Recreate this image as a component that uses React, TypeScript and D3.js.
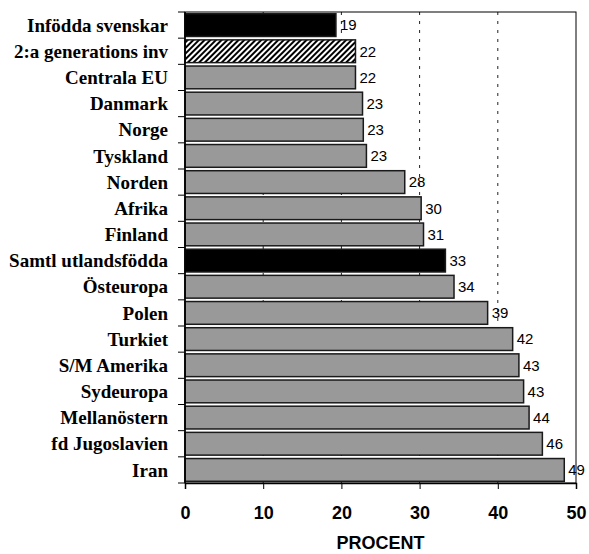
import * as d3 from "d3";
import { useEffect, useRef } from "react";

const categories = [
  "Infödda svenskar",
  "2:a generations inv",
  "Centrala EU",
  "Danmark",
  "Norge",
  "Tyskland",
  "Norden",
  "Afrika",
  "Finland",
  "Samtl utlandsfödda",
  "Östeuropa",
  "Polen",
  "Turkiet",
  "S/M Amerika",
  "Sydeuropa",
  "Mellanöstern",
  "fd Jugoslavien",
  "Iran",
];
const values = [
  19.3, 21.8, 21.8, 22.7, 22.8, 23.2, 28.1, 30.2, 30.5, 33.3, 34.4, 38.7, 41.9,
  42.7, 43.3, 44.0, 45.7, 48.5,
];
const valueLabels = [
  "19", "22", "22", "23", "23", "23", "28", "30", "31", "33", "34", "39", "42",
  "43", "43", "44", "46", "49",
];
// fill style per bar: black, hatched or grey
const barKinds = [
  "black", "hatch", "grey", "grey", "grey", "grey", "grey", "grey", "grey",
  "black", "grey", "grey", "grey", "grey", "grey", "grey", "grey", "grey",
];
const xTicks = [0, 10, 20, 30, 40, 50];
const gridTicks = [10, 20, 30, 40];

export default function App() {
  const ref = useRef<SVGSVGElement | null>(null);

  useEffect(() => {
    const width = 589;
    const height = 554;
    const margin = { top: 12, right: 13, bottom: 71, left: 185 };

    const svg = d3.select(ref.current);
    svg.selectAll("*").remove();
    svg.attr("width", width).attr("height", height);

    const defs = svg.append("defs");
    const pattern = defs
      .append("pattern")
      .attr("id", "hatch")
      .attr("patternUnits", "userSpaceOnUse")
      .attr("width", 4)
      .attr("height", 4)
      .attr("patternTransform", "rotate(45)");
    pattern.append("rect").attr("width", 4).attr("height", 4).attr("fill", "#fff");
    pattern
      .append("rect")
      .attr("width", 2)
      .attr("height", 4)
      .attr("fill", "#000");

    const x = d3
      .scaleLinear()
      .domain([0, 50])
      .range([margin.left, width - margin.right]);
    const y = d3
      .scaleBand<string>()
      .domain(categories)
      .range([margin.top, height - margin.bottom])
      .paddingInner(0.13)
      .paddingOuter(0.065);

    const top = margin.top;
    const bottom = height - margin.bottom;

    // dashed gridlines
    svg
      .append("g")
      .selectAll("line")
      .data(gridTicks)
      .enter()
      .append("line")
      .attr("x1", (d) => x(d))
      .attr("x2", (d) => x(d))
      .attr("y1", top)
      .attr("y2", bottom)
      .attr("stroke", "#222")
      .attr("stroke-width", 1)
      .attr("stroke-dasharray", "3,6");

    const fillFor = (k: string) =>
      k === "black" ? "#000" : k === "hatch" ? "url(#hatch)" : "#999999";

    svg
      .append("g")
      .selectAll("rect")
      .data(categories)
      .enter()
      .append("rect")
      .attr("x", x(0))
      .attr("y", (d) => y(d)!)
      .attr("width", (_, i) => x(values[i]) - x(0))
      .attr("height", y.bandwidth())
      .attr("fill", (_, i) => fillFor(barKinds[i]))
      .attr("stroke", "#1a1a1a")
      .attr("stroke-width", 1.5);

    // value labels
    svg
      .append("g")
      .selectAll("text")
      .data(categories)
      .enter()
      .append("text")
      .attr("x", (_, i) => x(values[i]) + 4)
      .attr("y", (d) => y(d)! + y.bandwidth() / 2)
      .attr("dy", "0.36em")
      .style("font-family", "'Liberation Sans', Arial, sans-serif")
      .style("font-size", "15px")
      .style("fill", "#000")
      .text((_, i) => valueLabels[i]);

    // category labels
    svg
      .append("g")
      .selectAll("text")
      .data(categories)
      .enter()
      .append("text")
      .attr("x", 168)
      .attr("y", (d) => y(d)! + y.bandwidth() / 2)
      .attr("dy", "0.35em")
      .attr("text-anchor", "end")
      .style("font-family", "'Liberation Serif', 'Times New Roman', serif")
      .style("font-weight", "bold")
      .style("font-size", "19px")
      .style("fill", "#000")
      .text((d) => d);

    // plot frame
    svg
      .append("rect")
      .attr("x", x(0))
      .attr("y", top)
      .attr("width", x(50) - x(0))
      .attr("height", bottom - top)
      .attr("fill", "none")
      .attr("stroke", "#000")
      .attr("stroke-width", 1);

    // left axis ticks at band boundaries
    const step = y.step();
    const boundaries = categories.map((c) => y(c)! - (step - y.bandwidth()) / 2);
    boundaries.push(bottom);
    svg
      .append("line")
      .attr("x1", x(0))
      .attr("x2", x(0))
      .attr("y1", top)
      .attr("y2", bottom)
      .attr("stroke", "#000")
      .attr("stroke-width", 1.5);
    svg
      .append("g")
      .selectAll("line")
      .data(boundaries)
      .enter()
      .append("line")
      .attr("x1", x(0) - 7)
      .attr("x2", x(0))
      .attr("y1", (d) => d)
      .attr("y2", (d) => d)
      .attr("stroke", "#000")
      .attr("stroke-width", 1);

    // bottom axis
    const xAxis = d3
      .axisBottom(x)
      .tickValues(xTicks)
      .tickSize(6)
      .tickPadding(17)
      .tickFormat(d3.format("d"));
    const gx = svg
      .append("g")
      .attr("transform", `translate(0,${bottom})`)
      .call(xAxis);
    gx.select(".domain").attr("stroke", "#000").attr("stroke-width", 1.5);
    gx.selectAll(".tick line").attr("stroke", "#000");
    gx.selectAll(".tick text")
      .style("font-family", "'Liberation Sans', Arial, sans-serif")
      .style("font-weight", "bold")
      .style("font-size", "18px")
      .style("fill", "#000");

    svg
      .append("text")
      .attr("x", (x(0) + x(50)) / 2)
      .attr("y", 549)
      .attr("text-anchor", "middle")
      .style("font-family", "'Liberation Sans', Arial, sans-serif")
      .style("font-weight", "bold")
      .style("font-size", "18px")
      .style("fill", "#000")
      .text("PROCENT");
  }, []);

  return (
    <div style={{ position: "absolute", left: 0, top: 0, background: "#fff" }}>
      <svg ref={ref} style={{ display: "block" }}></svg>
    </div>
  );
}
